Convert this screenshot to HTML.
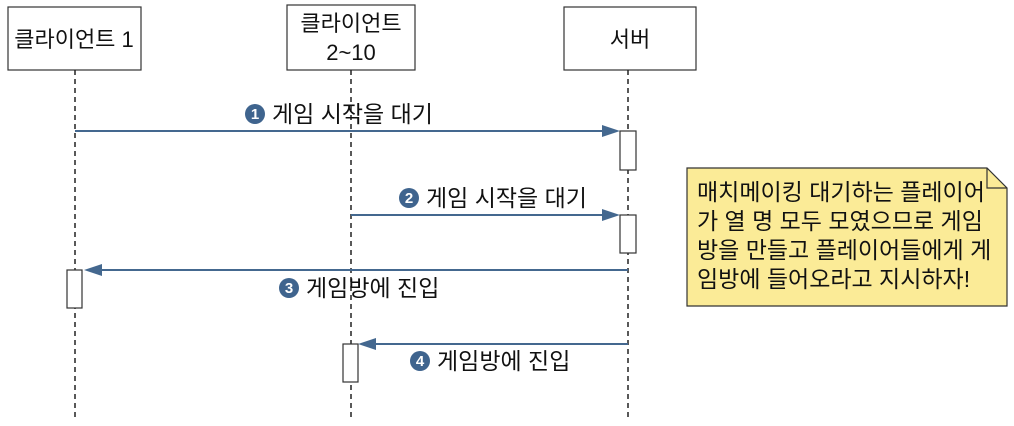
<!DOCTYPE html>
<html><head><meta charset="utf-8"><style>
html,body{margin:0;padding:0;background:#fff;}
svg text{font-family:"Liberation Sans","Noto Sans CJK KR",sans-serif;}
</style></head><body>
<svg width="1014" height="421" viewBox="0 0 1014 421" xmlns="http://www.w3.org/2000/svg">
<g fill="#fff" stroke="#333" stroke-width="1.2">
<rect x="8" y="7" width="133" height="63"/>
<rect x="287" y="5" width="128" height="65"/>
<rect x="564" y="7" width="132" height="63"/>
</g>
<g font-size="22" fill="#111" text-anchor="middle">
<text x="74" y="47">클라이언트 1</text>
<text x="351" y="31">클라이언트</text>
<text x="351" y="60">2~10</text>
<text x="630" y="47">서버</text>
</g>
<g stroke="#222" stroke-width="1.5" stroke-dasharray="5,4">
<line x1="75" y1="70" x2="75" y2="418"/>
<line x1="351" y1="70" x2="351" y2="418"/>
<line x1="628" y1="70" x2="628" y2="418"/>
</g>
<g stroke="#44688f" stroke-width="2" fill="#44688f">
<line x1="75" y1="131" x2="605" y2="131"/>
<polygon points="620,131 602,125 602,137" stroke="none"/>
<line x1="351" y1="215" x2="605" y2="215"/>
<polygon points="620,215 602,209 602,221" stroke="none"/>
<line x1="628" y1="270" x2="100" y2="270"/>
<polygon points="84,270 102,264 102,276" stroke="none"/>
<line x1="628" y1="344" x2="373" y2="344"/>
<polygon points="358,344 376,338 376,350" stroke="none"/>
</g>
<g fill="#fff" stroke="#333" stroke-width="1.2">
<rect x="620" y="131" width="16" height="39"/>
<rect x="620" y="215" width="16" height="38"/>
<rect x="67" y="270" width="15" height="38"/>
<rect x="343" y="344" width="15" height="38"/>
</g>
<g fill="#3f648e">
<circle cx="255" cy="114" r="10"/><circle cx="409" cy="198" r="10"/>
<circle cx="289" cy="288" r="10"/><circle cx="420" cy="361" r="10"/>
</g>
<g fill="#fff" font-size="15" font-weight="bold" text-anchor="middle">
<text x="255" y="119">1</text><text x="409" y="203">2</text>
<text x="289" y="293">3</text><text x="420" y="366">4</text>
</g>
<g font-size="23" fill="#111">
<text x="272" y="122">게임 시작을 대기</text>
<text x="426" y="206">게임 시작을 대기</text>
<text x="306" y="296">게임방에 진입</text>
<text x="437" y="369">게임방에 진입</text>
</g>
<path d="M687,168 L987,168 L1007,188 L1007,306 L687,306 Z" fill="#fbeb97" stroke="#333" stroke-width="1.2"/>
<path d="M987,168 L987,188 L1007,188" fill="none" stroke="#333" stroke-width="1.2"/>
<g font-size="23" fill="#111">
<text x="697" y="200">매치메이킹 대기하는 플레이어</text>
<text x="697" y="229">가 열 명 모두 모였으므로 게임</text>
<text x="697" y="258">방을 만들고 플레이어들에게 게</text>
<text x="697" y="287">임방에 들어오라고 지시하자!</text>
</g>
</svg>
</body></html>
